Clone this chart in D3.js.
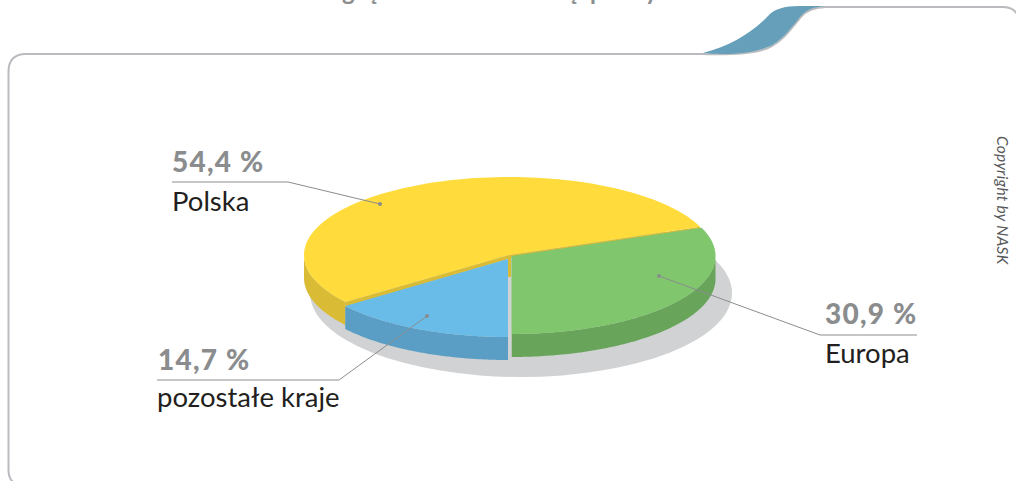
<!DOCTYPE html>
<html><head><meta charset="utf-8">
<script src="https://cdn.jsdelivr.net/npm/d3@7/dist/d3.min.js"></script>
<style>html,body{margin:0;padding:0;background:#fff;overflow:hidden}svg{display:block}text{font-family:Lato,sans-serif}</style>
</head><body><svg id="c" width="1016" height="481"></svg>
<script>
const categories = ["Polska", "Europa", "pozostałe kraje"];
const values = [54.4, 30.9, 14.7];
const valueLabels = ["54,4 %", "30,9 %", "14,7 %"];
const clippedTitleGlyphs = ["g", "ę", "ę", "p", "y"];
const clippedTitleX = [342, 367, 567, 590, 645];
const topColors = ["#ffdc3b", "#80c66d", "#69bbe8"];
const sideColors = ["#d9bb36", "#68a55b", "#5a9ec6"];
const offsets = [[509, 255], [511.5, 256], [508, 259]];
const radiiX = [205, 204, 204];
const depths = [23, 23, 23];
const rotation = 68.76 * Math.PI / 180 - (54.4 / 100) * 2 * Math.PI;

const svg = d3.select("#c");
const ry = 78;
const pie = d3.pie().sort(null).startAngle(rotation).endAngle(rotation + 2 * Math.PI);
const arcs = pie(values);

function ptsArc(i, a0, a1, n = 100) {
  const [cx, cy] = offsets[i], r = radiiX[i];
  return d3.range(n + 1).map(k => {
    const a = a0 + (a1 - a0) * k / n;
    return [cx + r * Math.sin(a), cy - ry * Math.cos(a)];
  });
}
const line = d3.line();

// clipped title remnants
clippedTitleGlyphs.forEach((g, i) => {
  svg.append("text").attr("x", clippedTitleX[i]).attr("y", 0).attr("font-size", 24).attr("font-weight", 700).attr("fill", "#8a8c8e").text(g);
});

// frame
svg.append("path").attr("fill", "none").attr("stroke", "#b9bbbe").attr("stroke-width", 2)
  .attr("d", "M13,482C9.5,479 8.5,475 8.5,470V72C8.5,60 14,54 26,54H702C730,55 752,54 768,48C782,42 790,30 800,18C806,10 814,7 826,7H1003C1010,7 1014,9 1017,14");
svg.append("path").attr("fill", "#659fb9")
  .attr("d", "M703,53C730,46 752,33 768,16C774,9 784,6 800,6H826C812,7 806,10 800,17C788,32 780,42 768,47C750,54 725,55 703,53Z");

// ground shadow
svg.append("ellipse").attr("cx", 521).attr("cy", 293).attr("rx", 211).attr("ry", 84).attr("fill", "#d0d2d3");

// outer walls
arcs.forEach((d, i) => {
  const dep = depths[i];
  let lo, hi;
  if (i === 0) { lo = d.startAngle; hi = -Math.PI / 2; }
  else if (i === 1) { lo = Math.PI / 2; hi = d.endAngle; }
  else { lo = d.startAngle; hi = d.endAngle; }
  const top = ptsArc(i, lo, hi);
  const bottom = top.map(p => [p[0], p[1] + dep]).reverse();
  svg.append("path").attr("d", line(top.concat(bottom)) + "Z").attr("fill", sideColors[i]);
});

// inner cut faces of the yellow slice
{
  const [cx, cy] = offsets[0], d = arcs[0];
  const pA = ptsArc(0, d.startAngle, d.startAngle, 1)[0];
  const pB = ptsArc(0, d.endAngle, d.endAngle, 1)[0];
  const rim = [pA, [cx, cy], pB, [pB[0], pB[1] + 4], [cx + 2, cy + 3], [cx + 2, cy + 23], [cx - 1, cy + 23], [cx - 1, cy + 4], [pA[0], pA[1] + 5]];
  svg.append("path").attr("d", line(rim) + "Z").attr("fill", sideColors[0]);
}

// gap showing grey between blue and green
svg.append("rect").attr("x", 508).attr("y", 277).attr("width", 3.5).attr("height", 82).attr("fill", "#d0d2d3");

// top faces
arcs.forEach((d, i) => {
  const [cx, cy] = offsets[i];
  const rim = ptsArc(i, d.startAngle, d.endAngle);
  svg.append("path").attr("d", line([[cx, cy]].concat(rim)) + "Z").attr("fill", topColors[i]);
});

// leader lines
const leaders = [
  { pts: [[172, 182], [288, 182], [380, 204]], dot: [380, 204] },
  { pts: [[917, 335], [820, 335], [659, 276]], dot: [659, 276] },
  { pts: [[157, 380], [339, 380], [427, 316]], dot: [427, 316] }
];
leaders.forEach(l => {
  svg.append("path").attr("d", line(l.pts)).attr("fill", "none").attr("stroke", "#8a8c8e").attr("stroke-width", 1);
  svg.append("circle").attr("cx", l.dot[0]).attr("cy", l.dot[1]).attr("r", 2).attr("fill", "#8a8c8e");
});

// labels
const labelPos = [[172, 172, 211], [825, 324, 363], [158, 370, 407]];
categories.forEach((c, i) => {
  const [x, y1, y2] = labelPos[i];
  svg.append("text").attr("x", x).attr("y", y1).attr("font-size", 28).attr("font-weight", 900).attr("letter-spacing", 1.2).attr("fill", "#8a8c8e").text(valueLabels[i]);
  svg.append("text").attr("x", x - (i === 2 ? 1 : 0)).attr("y", y2).attr("font-size", 27.5).attr("fill", "#231f20").text(c);
});

svg.append("text").attr("transform", "translate(997,136) rotate(90)").attr("font-size", 15.5).attr("letter-spacing", 0.3).attr("font-style", "italic").attr("fill", "#58595b").text("Copyright by NASK");
</script></body></html>
